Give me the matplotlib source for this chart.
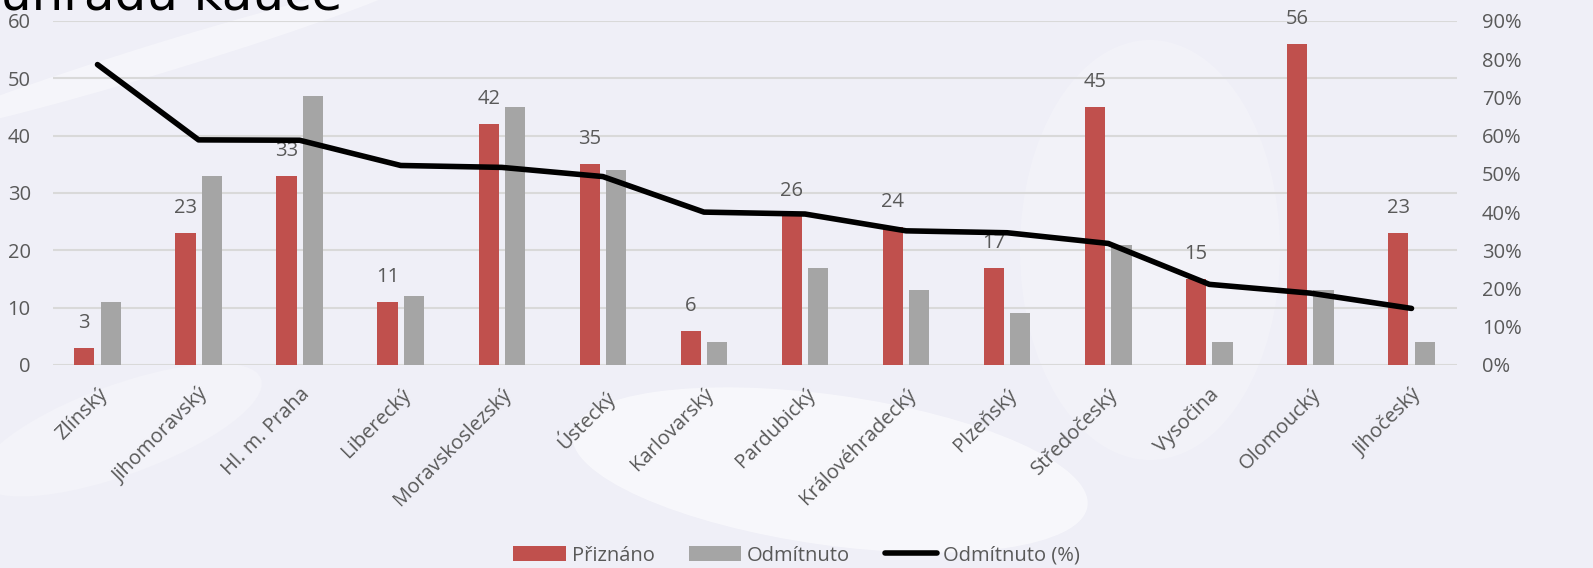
import matplotlib.pyplot as plt
import numpy as np
from matplotlib.ticker import PercentFormatter
from matplotlib.patches import Ellipse

# data
kraje = ['Zlínský', 'Jihomoravský', 'Hl. m. Praha', 'Liberecký', 'Moravskoslezský',
         'Ústecký', 'Karlovarský', 'Pardubický', 'Královéhradecký', 'Plzeňský',
         'Středočeský', 'Vysočina', 'Olomoucký', 'Jihočeský']
priznano = [3, 23, 33, 11, 42, 35, 6, 26, 24, 17, 45, 15, 56, 23]
odmitnuto = [11, 33, 47, 12, 45, 34, 4, 17, 13, 9, 21, 4, 13, 4]
odmitnuto_pct = [78.6, 58.9, 58.8, 52.2, 51.7, 49.3, 40.0, 39.5, 35.1, 34.6, 31.8, 21.1, 18.8, 14.8]

plt.rcParams['font.family'] = ['Open Sans', 'DejaVu Sans']
bg = '#efeff7'
txt = '#595959'
fs = 14.5

fig = plt.figure(figsize=(15.93, 5.68), dpi=100, facecolor=bg)

# faint watermark blobs behind the chart
W, H = 1593, 568
bgax = fig.add_axes([0, 0, 1, 1], zorder=-10)
bgax.set_xlim(0, W)
bgax.set_ylim(H, 0)
bgax.axis('off')
for (cx, cy, ew, eh, ang, a) in [(830, 470, 520, 150, 8, 0.55),
                                  (170, 55, 520, 30, -17, 0.4),
                                  (1150, 250, 260, 420, 0, 0.2),
                                  (120, 430, 300, 90, -20, 0.25)]:
    bgax.add_patch(Ellipse((cx, cy), ew, eh, angle=ang, color='white', alpha=a, lw=0))

ax = fig.add_axes([53/1593, 1-365/568, (1457-53)/1593, 344/568], zorder=1)
ax.set_facecolor('none')

x = np.arange(len(kraje))
w = 0.2
b1 = ax.bar(x - 0.13, priznano, w, color='#c0504d', label='Přiznáno', zorder=2)
b2 = ax.bar(x + 0.13, odmitnuto, w, color='#a5a5a5', label='Odmítnuto', zorder=2)

for xi, v in zip(x, priznano):
    ax.text(xi - 0.13, v + 2.6, str(v), ha='center', va='bottom', fontsize=fs, color=txt)

ax.set_ylim(0, 60)
ax.set_yticks(range(0, 61, 10))
ax.set_xlim(-0.44, 13.45)
ax.grid(axis='y', color='#d9d9d9', linewidth=1.5, zorder=0)
for s in ax.spines.values():
    s.set_visible(False)
ax.tick_params(axis='both', length=0, labelsize=fs, labelcolor=txt)
ax.tick_params(axis='y', pad=16)
ax.set_xticks(x)
ax.set_xticklabels(kraje, rotation=45, ha='right', rotation_mode='anchor')
ax.tick_params(axis='x', pad=14)

ax2 = ax.twinx()
ax2.set_position(ax.get_position())
l, = ax2.plot(x, odmitnuto_pct, color='black', linewidth=4, label='Odmítnuto (%)',
              solid_capstyle='round', zorder=3)
ax2.set_ylim(0, 90)
ax2.set_yticks(range(0, 91, 10))
ax2.yaxis.set_major_formatter(PercentFormatter(decimals=0))
for s in ax2.spines.values():
    s.set_visible(False)
ax2.tick_params(axis='y', length=0, labelsize=fs, labelcolor=txt, pad=18)

fig.legend(handles=[b1, b2, l], loc='center', bbox_to_anchor=(0.5, 0.022), ncol=3,
           frameon=False, fontsize=fs, labelcolor=txt, handlelength=2.6,
           handletextpad=0.3, columnspacing=1.7)

fig.text(0.0, 1 - 9/568, 'úhradu kauce', fontsize=36, color='black', va='baseline',
         family='DejaVu Sans')

fig.savefig('out.png', dpi=100, facecolor=bg)
